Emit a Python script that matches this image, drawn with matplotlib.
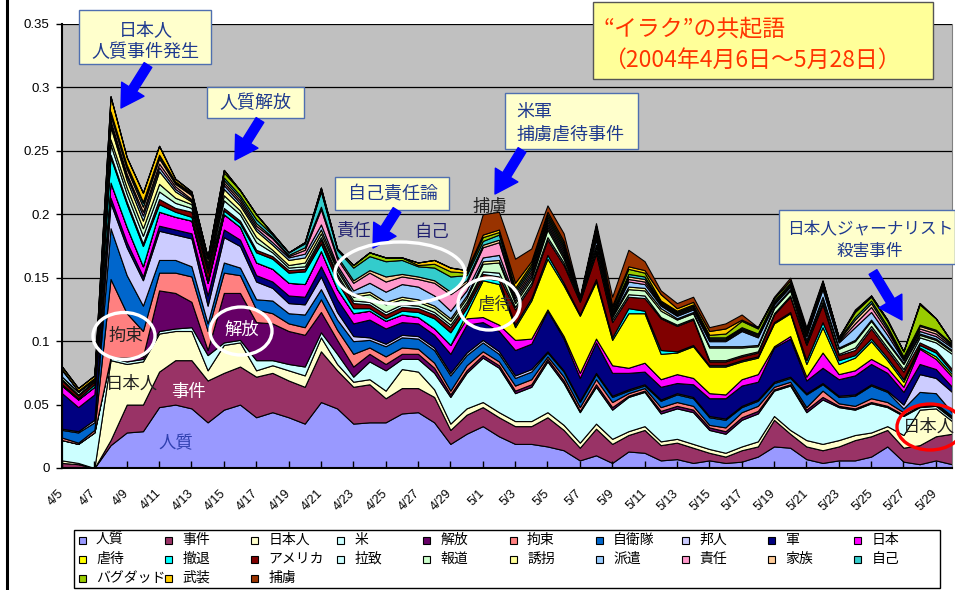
import numpy as np
import matplotlib
matplotlib.use("Agg")
import matplotlib.pyplot as plt
from matplotlib.patches import Rectangle, Ellipse, FancyArrowPatch
from matplotlib.lines import Line2D

plt.rcParams['font.family'] = ['Noto Sans CJK JP', 'DejaVu Sans']

# --- data (share of co-occurring words, daily) ---
days = ["4/5", "4/6", "4/7", "4/8", "4/9", "4/10", "4/11", "4/12", "4/13", "4/14",
        "4/15", "4/16", "4/17", "4/18", "4/19", "4/20", "4/21", "4/22", "4/23", "4/24",
        "4/25", "4/26", "4/27", "4/28", "4/29", "4/30", "5/1", "5/2", "5/3", "5/4",
        "5/5", "5/6", "5/7", "5/8", "5/9", "5/10", "5/11", "5/12", "5/13", "5/14",
        "5/15", "5/16", "5/17", "5/18", "5/19", "5/20", "5/21", "5/22", "5/23", "5/24",
        "5/25", "5/26", "5/27", "5/28", "5/29", "5/30"]

hostage = [0, 0, 0, .018, .028, .029, .048, .05, .047, .036,
           .046, .05, .04, .044, .04, .035, .052, .047, .035, .036,
           .036, .043, .044, .036, .019, .027, .033, .025, .019, .019,
           .017, .014, .006, .01, .004, .013, .012, .006, .007, .004,
           .006, .004, .005, .009, .017, .016, .007, .004, .006, .006,
           .009, .017, .005, .003, .006, .003]
incident = [.004, .003, 0, .004, .022, .021, .028, .035, .038, .033,
            .029, .03, .032, .031, .029, .029, .04, .03, .029, .03,
            .019, .02, .019, .02, .011, .015, .015, .015, .014, .014,
            .023, .016, .01, .021, .015, .013, .018, .012, .013, .012,
            .006, .005, .009, .008, .021, .011, .01, .01, .011, .016,
            .016, .013, .011, .015, .019, .024]
japanese = [.002, .001, 0, .063, .032, .034, .03, .023, .023, .008,
            .022, .019, .005, .006, .008, .009, .011, .005, .004, .004,
            .006, .015, .013, .006, .005, .005, .004, .004, .004, .004,
            .004, .004, .004, .004, .004, .003, .003, .003, .003, .003,
            .003, .003, .003, .004, .003, .003, .005, .005, .005, .004,
            .003, .003, .01, .028, .022, .01]
bei = [.016, .015, .028, .002, .002, .002, .002, .002, .003, .012,
       .002, .002, .008, .004, .005, .007, .004, .008, .004, .014,
       .016, .008, .01, .013, .021, .028, .035, .035, .022, .027,
       .04, .033, .024, .029, .023, .027, .027, .022, .024, .025,
       .015, .015, .021, .022, .02, .035, .022, .035, .026, .02,
       .023, .015, .015, .002, .002, .002]
release = [0, 0, 0, 0, .003, .002, .032, .028, .02, .004,
           .039, .037, .03, .029, .026, .025, .016, .011, .008, .006,
           .005, .004, .004, .004, .002, .002, .002, .002, .002, .002,
           .002, .002, .001, .002, .002, .001, .001, .002, .002, .002,
           .002, .002, .002, .002, .001, .001, .002, .002, .001, .001,
           .001, .001, .001, .001, .001, .001]
detention = [.002, .001, .002, .062, .035, .02, .014, .016, .02, .015,
             .016, .014, .01, .008, .006, .006, .01, .008, .01, .005,
             .006, .005, .004, .004, .003, .004, .003, .003, .004, .004,
             .002, .003, .003, .004, .004, .002, .002, .003, .003, .003,
             .002, .003, .004, .004, .002, .002, .002, .005, .002, .002,
             .003, .003, .002, .001, .001, .001]
sdf = [.006, .008, .006, .04, .03, .02, .01, .01, .008, .006,
       .008, .006, .008, .01, .008, .01, .008, .008, .01, .006,
       .008, .008, .008, .01, .012, .008, .007, .006, .006, .006,
       .003, .004, .004, .004, .004, .002, .002, .005, .006, .006,
       .006, .006, .004, .004, .003, .003, .01, .005, .005, .008,
       .01, .008, .003, .01, .008, .003]
nationals = [.001, .001, .002, .02, .022, .02, .023, .02, .022, .014,
             .02, .017, .014, .01, .008, .008, .01, .006, .004, .002,
             .002, .002, .002, .002, .002, .002, .002, .002, .002, .002,
             .001, .001, .001, .001, .001, .001, .001, .001, .001, .001,
             .001, .001, .001, .001, .001, .001, .001, .001, .001, .001,
             .001, .001, .003, .014, .012, .016]
military = [.028, .019, .02, .004, .004, .003, .004, .004, .004, .008,
            .006, .005, .005, .005, .006, .006, .008, .01, .01, .014,
            .012, .01, .01, .01, .015, .022, .014, .016, .02, .02,
            .032, .025, .018, .024, .018, .013, .01, .01, .008, .01,
            .014, .016, .016, .014, .027, .03, .01, .012, .013, .015,
            .016, .014, .01, .008, .007, .004]
japan = [.006, .006, .006, .012, .012, .008, .011, .01, .01, .01,
         .012, .01, .01, .01, .01, .01, .012, .008, .008, .007,
         .006, .006, .005, .005, .007, .005, .004, .005, .008, .004,
         .001, .002, .004, .003, .006, .004, .007, .006, .007, .005,
         .004, .003, .005, .006, .001, .002, .003, .012, .004, .004,
         .004, .004, .004, .012, .008, .008]
abuse = [0, 0, 0, 0, 0, 0, 0, 0, 0, 0,
         0, 0, 0, 0, 0, 0, 0, 0, 0, 0,
         0, 0, 0, 0, 0, .004, .029, .032, .01, .03,
         .04, .04, .045, .045, .02, .043, .039, .02, .017, .025,
         .021, .022, .014, .013, .018, .018, .01, .02, .008, .01,
         .014, .006, .004, .001, .002, .002]
withdrawal = [.001, .001, .002, .02, .018, .016, .006, .004, .003, .002,
              .003, .003, .008, .008, .008, .01, .006, .006, .004, .002,
              .002, .003, .004, .008, .01, .004, .002, .003, .002, .002,
              .003, .002, .001, .002, .002, .004, .002, .003, .001, .001,
              .001, .001, .001, .001, .001, .001, .003, .004, .003, .002,
              .002, .002, .002, .002, .003, .002]
america = [.003, .002, .002, .002, .002, .002, .004, .003, .004, .006,
           .002, .002, .002, .002, .002, .002, .003, .004, .004, .003,
           .003, .003, .003, .003, .004, .003, .003, .003, .012, .01,
           .012, .014, .01, .02, .012, .009, .01, .025, .02, .02,
           .003, .003, .003, .003, .006, .012, .012, .014, .004, .004,
           .008, .006, .006, .002, .002, .002]
abduction = [.001, .001, .001, .008, .006, .006, .006, .004, .003, .002,
             .006, .005, .006, .003, .002, .002, .002, .002, .002, .002,
             .002, .002, .002, .002, .002, .002, .002, .003, .002, .002,
             .002, .002, .001, .002, .002, .002, .002, .001, .001, .001,
             .001, .001, .001, .001, .001, .001, .001, .002, .001, .002,
             .002, .002, .002, .004, .006, .012]
media = [.002, .002, .001, .004, .005, .006, .006, .004, .003, .002,
         .004, .003, .004, .002, .002, .003, .003, .003, .003, .006,
         .006, .004, .003, .003, .003, .003, .006, .008, .003, .003,
         .006, .003, .001, .003, .002, .004, .004, .005, .004, .004,
         .01, .01, .006, .004, .004, .004, .002, .003, .004, .005,
         .004, .004, .004, .002, .002, .002]
kidnap = [0, 0, 0, .01, .006, .006, .01, .005, .002, .001,
          .005, .004, .005, .004, .004, .004, .003, .002, .002, .002,
          .002, .002, .002, .002, .002, .002, .002, .002, .002, .002,
          .002, .002, .001, .002, .001, .002, .002, .002, .001, .001,
          .001, .001, .001, .001, .001, .001, .001, .001, .001, .001,
          .001, .001, .001, .001, .001, .001]
dispatch = [.005, .001, .001, .003, .003, .004, .003, .002, .001, .001,
            .003, .002, .002, .002, .002, .003, .004, .002, .003, .007,
            .008, .01, .01, .008, .006, .004, .003, .004, .002, .002,
            .002, .002, 0, .004, .001, .004, .003, .002, .002, .002,
            .004, .004, .012, .006, .002, .002, .003, .006, .004, .01,
            .006, .005, .002, .002, .002, .002]
responsibility = [.001, 0, 0, .002, .002, .003, .003, .002, .001, .001,
                  .002, .002, .002, .003, .001, .003, .012, .005, .006, .008,
                  .008, .006, .006, .01, .013, .006, .008, .01, .002, .002,
                  .002, .002, 0, .003, .001, .002, .002, .001, .001, .001,
                  .001, .001, .001, .001, .001, .001, .001, .002, .001, .003,
                  .004, .003, .001, .002, .002, .001]
family = [0, 0, 0, .004, .004, .004, .004, .002, .003, .004,
          .002, .002, .002, .001, .001, .002, .002, .002, .002, .002,
          .004, .002, .002, .002, .002, .002, .002, .002, .002, .002,
          .002, .002, 0, .002, .001, .002, .002, .001, .001, .001,
          .001, .001, .001, .001, .001, .001, .001, .002, .001, .003,
          .003, .002, .001, .002, .002, .001]
jiko = [0, 0, 0, .002, .002, .003, .002, .001, .001, .001,
        .002, .002, .003, .002, .002, .003, .012, .005, .01, .011,
        .012, .011, .008, .01, .012, .004, .003, .004, .002, .002,
        .002, .002, 0, .002, .001, .002, .002, .001, .001, .001,
        .001, .001, .001, .001, .001, .001, .001, .001, .001, .002,
        .002, .002, .001, .001, .001, .001]
baghdad = [0, 0, 0, .001, .001, .001, .001, .001, .001, 0,
           .004, .004, .004, .001, 0, .001, .001, .001, .002, .003,
           .003, .002, .001, .003, .004, .002, .003, .002, .002, .002,
           .002, .002, 0, .002, .002, .004, .003, .001, .001, .001,
           .002, .003, .005, .004, .002, .002, .001, .001, .001, .004,
           .003, .004, .004, .016, .009, .001]
armed = [.002, .002, .002, .012, .006, .007, .007, .002, .001, 0,
         .002, 0, 0, 0, 0, 0, .002, 0, 0, 0,
         0, 0, .002, .003, .003, .002, .002, .002, .004, .002,
         .002, .002, 0, .002, .002, .002, .002, .005, .002, .002,
         .003, .004, .001, .001, 0, 0, .001, 0, 0, .001,
         .001, .001, 0, .001, 0, 0]
pow_ = [0, 0, 0, 0, 0, 0, 0, 0, 0, 0,
        0, 0, 0, 0, 0, 0, 0, 0, 0, 0,
        0, 0, 0, 0, 0, 0, .016, .014, .019, .01,
        .005, .006, .001, .002, .007, .013, .007, .003, .004, .004,
        .003, .004, .004, 0, .001, .002, .002, .001, 0, .001,
        0, 0, 0, 0, 0, 0]

labels = ["人質", "事件", "日本人", "米", "解放", "拘束", "自衛隊", "邦人", "軍", "日本",
          "虐待", "撤退", "アメリカ", "拉致", "報道", "誘拐", "派遣", "責任", "家族", "自己",
          "バグダッド", "武装", "捕虜"]
series = [hostage, incident, japanese, bei, release, detention, sdf, nationals, military, japan,
          abuse, withdrawal, america, abduction, media, kidnap, dispatch, responsibility, family, jiko,
          baghdad, armed, pow_]
colors = ["#9999FF", "#993366", "#FFFFCC", "#CCFFFF", "#660066", "#FF8080", "#0066CC", "#CCCCFF",
          "#000080", "#FF00FF", "#FFFF00", "#00FFFF", "#800000", "#CCFFFF", "#CCFFCC", "#FFFF99",
          "#99CCFF", "#FF99CC", "#FFCC99", "#33CCCC", "#99CC00", "#FFCC00", "#993300"]
yticks = [0, 0.05, 0.1, 0.15, 0.2, 0.25, 0.3, 0.35]
ytick_labels = ["0", "0.05", "0.1", "0.15", "0.2", "0.25", "0.3", "0.35"]

W, H = 955, 590


def fx(px):
    return px / W


def fy(py):
    return 1 - py / H


fig = plt.figure(figsize=(W / 100, H / 100), dpi=100)
fig.patch.set_facecolor("white")
ax = fig.add_axes([fx(62), fy(468), (952 - 62) / W, (468 - 24) / H])
x = np.arange(len(days))
ax.stackplot(x, *series, colors=colors, edgecolor="black", linewidth=0.8, zorder=1)
ax.set_facecolor("#C0C0C0")
ax.set_xlim(0, len(days) - 1)
ax.set_ylim(0, 0.35)

for v in yticks[1:]:
    ax.axhline(v, color="black", lw=0.9, zorder=0.5)

ax.set_yticks(yticks)
ax.set_yticklabels(ytick_labels, fontfamily="Liberation Sans", fontsize=9.5)
ax.set_xticks(x[::2])
ax.set_xticklabels(days[::2], fontfamily="Liberation Sans", fontsize=9,
                   rotation=45, ha="right", va="center", rotation_mode="anchor")
ax.tick_params(axis="x", direction="in", length=5, width=1, pad=17)
ax.tick_params(axis="y", direction="out", length=4, width=1, pad=5)
ax.spines["top"].set_visible(False)
ax.spines["right"].set_color("#808080")
ax.spines["left"].set_linewidth(1.5)
ax.spines["bottom"].set_linewidth(1.5)

# slide border line on the left
fig.add_artist(Line2D([fx(7), fx(7)], [0, 1], transform=fig.transFigure, color="black", lw=2.2))


def box(x0, y0, x1, y1, fc, ec):
    fig.add_artist(Rectangle((fx(x0), fy(y1)), (x1 - x0) / W, (y1 - y0) / H,
                             transform=fig.transFigure, fc=fc, ec=ec, lw=1, zorder=4))


def label(px, py, s, size=13, color="#1F3A8F", ha="center"):
    fig.text(fx(px), fy(py), s, fontsize=size, color=color, ha=ha, va="center", zorder=6)


def arrow(x0, y0, x1, y1):
    fig.add_artist(FancyArrowPatch((fx(x0), fy(y0)), (fx(x1), fy(y1)), transform=fig.transFigure,
                                   arrowstyle="simple,head_width=1.9,head_length=1.6,tail_width=0.65",
                                   mutation_scale=10, color="#0000FF", shrinkA=0, shrinkB=0, zorder=5))


def ring(cx, cy, w, h, color):
    fig.add_artist(Ellipse((fx(cx), fy(cy)), w / W, h / H, transform=fig.transFigure,
                           fill=False, ec=color, lw=2.4, zorder=5))


# title box
box(593, 2, 933, 79, "#FFFF99", "#555555")
label(603, 30, "“イラク”の共起語", size=16.5, color="#FF3300", ha="left")
label(603, 60, "（2004年4月6日～5月28日）", size=16.5, color="#FF3300", ha="left")

# event call-outs
box(79, 10, 211, 64, "#FFFFCC", "#4F6FB0")
label(146, 30, "日本人")
label(145, 52, "人質事件発生")
arrow(148, 65, 121, 108)

box(207, 87, 304, 118, "#FFFFCC", "#4F6FB0")
label(255, 103, "人質解放")
arrow(260, 120, 235, 160)

box(335, 177, 449, 210, "#FFFFCC", "#4F6FB0")
label(393, 194, "自己責任論")
arrow(397, 210, 373, 248)

box(505, 93, 638, 149, "#FFFFCC", "#4F6FB0")
label(516, 112, "米軍", ha="left")
label(516, 135, "捕虜虐待事件", ha="left")
arrow(522, 150, 495, 194)

box(779, 210, 955, 264, "#FFFFCC", "#4F6FB0")
label(870, 229, "日本人ジャーナリスト", size=12)
label(870, 251, "殺害事件", size=12)
arrow(873, 272, 902, 320)

# in-chart word labels
ring(124, 336, 62, 47, "white")
label(126, 336, "拘束", size=12.5, color="#222222")
ring(241, 331, 62, 48, "white")
label(242, 330, "解放", size=12.5, color="white")
ring(400, 273, 130, 62, "white")
ring(489, 304, 62, 52, "white")
label(495, 305, "虐待", size=12.5, color="#333333")
ring(930, 427, 66, 46, "#FF0000")
label(929, 427, "日本人", size=12.5, color="#222222")
label(132, 384, "日本人", size=12.5, color="#222222")
label(188, 392, "事件", size=12.5, color="white")
label(176, 443, "人質", size=12.5, color="#3040B0")
label(353, 231, "責任", size=12.5, color="#202070")
label(432, 232, "自己", size=12.5, color="#202070")
label(490, 207, "捕虜", size=12.5, color="#222222")

# legend, laid out in rows of ten like the original
box(74, 530, 940, 588, "white", "black")
for k, (lab, col) in enumerate(zip(labels, colors)):
    cx = 82 + 86.2 * (k % 10)
    cy = [540, 559, 578][k // 10]
    fig.add_artist(Rectangle((fx(cx - 3.5), fy(cy + 3.5)), 7 / W, 7 / H, transform=fig.transFigure,
                             fc=col, ec="black", lw=0.8, zorder=6))
    label(cx + 14, cy, lab, size=10, color="black", ha="left")

fig.savefig("out.png", dpi=100)
